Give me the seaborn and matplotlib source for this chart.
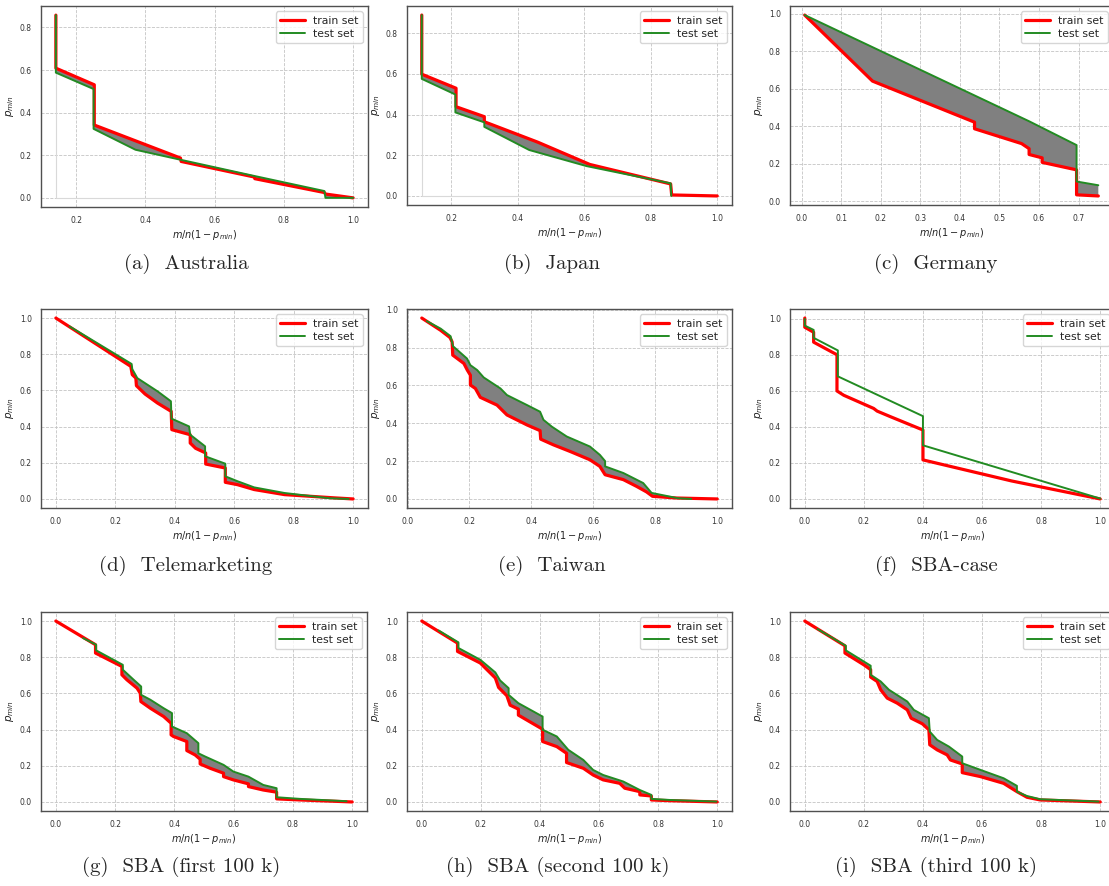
import numpy as np
import matplotlib
matplotlib.use('Agg')
import matplotlib.pyplot as plt
import seaborn as sns

# ---------------------------------------------------------------
# curvas p_min x m/n(1-p_min) (treino / teste)
# ---------------------------------------------------------------

# (a) Australia
aus_train_x = [0.141, 0.141, 0.252, 0.252, 0.501, 0.503, 0.714, 0.716, 0.917, 0.92, 1.0]
aus_train_y = [0.858, 0.609, 0.531, 0.342, 0.187, 0.171, 0.098, 0.090, 0.025, 0.018, 0.0]
aus_test_x = [0.141, 0.141, 0.250, 0.250, 0.371, 0.501, 0.714, 0.917, 0.92, 1.0]
aus_test_y = [0.858, 0.588, 0.511, 0.324, 0.226, 0.179, 0.103, 0.032, 0.0, 0.0]

# (b) Japan
jap_train_x = [0.112, 0.112, 0.215, 0.215, 0.300, 0.300, 0.460, 0.617, 0.860, 0.863, 1.0]
jap_train_y = [0.890, 0.599, 0.530, 0.439, 0.390, 0.365, 0.265, 0.155, 0.059, 0.005, 0.0]
jap_test_x = [0.112, 0.112, 0.213, 0.213, 0.300, 0.300, 0.435, 0.607, 0.860, 0.862]
jap_test_y = [0.890, 0.576, 0.499, 0.411, 0.362, 0.340, 0.226, 0.147, 0.062, 0.0]

# (c) Germany
ger_train_x = [0.0075, 0.179, 0.437, 0.437, 0.556, 0.575, 0.575, 0.608, 0.608, 0.695, 0.695, 0.750]
ger_train_y = [0.993, 0.641, 0.422, 0.387, 0.308, 0.281, 0.250, 0.232, 0.208, 0.168, 0.035, 0.029]
ger_test_x = [0.0075, 0.575, 0.695, 0.695, 0.750]
ger_test_y = [0.993, 0.427, 0.300, 0.106, 0.086]

# (d) Telemarketing
tel_train_x = [0.0, 0.252, 0.257, 0.269, 0.271, 0.300, 0.342, 0.388, 0.390, 0.452, 0.452,
               0.470, 0.504, 0.504, 0.570, 0.570, 0.611, 0.667, 0.769, 0.937, 1.0]
tel_train_y = [1.0, 0.733, 0.687, 0.668, 0.626, 0.580, 0.530, 0.484, 0.383, 0.355, 0.309,
               0.280, 0.254, 0.193, 0.171, 0.092, 0.079, 0.052, 0.024, 0.006, 0.0]
tel_test_x = [0.046, 0.255, 0.257, 0.274, 0.342, 0.387, 0.389, 0.448, 0.452, 0.502, 0.502,
              0.570, 0.570, 0.611, 0.667, 0.769, 0.920, 0.985]
tel_test_y = [0.954, 0.746, 0.718, 0.668, 0.595, 0.540, 0.444, 0.401, 0.355, 0.291, 0.236,
              0.195, 0.125, 0.098, 0.064, 0.033, 0.004, 0.0]

# (e) Taiwan
tai_train_x = [0.046, 0.107, 0.137, 0.144, 0.146, 0.182, 0.193, 0.203, 0.203, 0.219, 0.235,
               0.289, 0.321, 0.386, 0.428, 0.430, 0.471, 0.525, 0.589, 0.621, 0.638, 0.697,
               0.739, 0.772, 0.791, 0.868, 1.0]
tai_train_y = [0.956, 0.891, 0.853, 0.830, 0.760, 0.716, 0.681, 0.654, 0.602, 0.584, 0.537,
               0.496, 0.444, 0.391, 0.361, 0.316, 0.286, 0.251, 0.207, 0.172, 0.128, 0.102,
               0.067, 0.037, 0.014, 0.005, 0.0]
tai_test_x = [0.062, 0.107, 0.139, 0.147, 0.192, 0.203, 0.225, 0.246, 0.300, 0.321, 0.386,
              0.428, 0.439, 0.466, 0.514, 0.589, 0.621, 0.638, 0.638, 0.697, 0.761, 0.788,
              0.815, 0.873, 0.916]
tai_test_y = [0.940, 0.900, 0.860, 0.807, 0.742, 0.707, 0.681, 0.642, 0.584, 0.549, 0.496,
              0.461, 0.418, 0.382, 0.330, 0.277, 0.233, 0.200, 0.172, 0.137, 0.084, 0.032,
              0.023, 0.004, 0.0]

# (f) SBA-case
sbc_train_x = [0.0, 0.0, 0.030, 0.030, 0.109, 0.109, 0.132, 0.233, 0.245, 0.290, 0.400,
               0.400, 0.700, 1.0]
sbc_train_y = [1.005, 0.954, 0.926, 0.871, 0.801, 0.600, 0.576, 0.503, 0.488, 0.457, 0.383,
               0.217, 0.100, 0.0]
sbc_test_x = [0.0, 0.0, 0.030, 0.030, 0.112, 0.112, 0.400, 0.400, 1.0]
sbc_test_y = [1.0, 0.963, 0.939, 0.895, 0.825, 0.681, 0.460, 0.298, 0.002]

# (g) SBA (first 100 k)
sb1_train_x = [0.0, 0.134, 0.134, 0.223, 0.223, 0.240, 0.274, 0.285, 0.287, 0.319, 0.364,
               0.389, 0.389, 0.397, 0.442, 0.442, 0.470, 0.487, 0.487, 0.521, 0.566, 0.566,
               0.599, 0.650, 0.650, 0.700, 0.745, 0.745, 0.824, 1.0]
sb1_train_y = [1.0, 0.869, 0.823, 0.749, 0.703, 0.675, 0.629, 0.601, 0.555, 0.518, 0.472,
               0.435, 0.371, 0.362, 0.334, 0.284, 0.260, 0.236, 0.210, 0.186, 0.159, 0.140,
               0.122, 0.100, 0.085, 0.066, 0.054, 0.017, 0.011, 0.0]
sb1_test_x = [0.092, 0.136, 0.136, 0.226, 0.226, 0.263, 0.288, 0.288, 0.319, 0.364, 0.392,
              0.392, 0.442, 0.481, 0.481, 0.504, 0.566, 0.599, 0.650, 0.700, 0.745, 0.745,
              0.824, 0.981]
sb1_test_y = [0.906, 0.869, 0.838, 0.758, 0.731, 0.675, 0.638, 0.592, 0.565, 0.518, 0.491,
              0.417, 0.380, 0.325, 0.269, 0.251, 0.205, 0.168, 0.140, 0.094, 0.076, 0.026,
              0.017, 0.004]

# (h) SBA (second 100 k)
sb2_train_x = [0.0, 0.121, 0.121, 0.198, 0.249, 0.260, 0.288, 0.299, 0.327, 0.327, 0.389,
               0.409, 0.409, 0.457, 0.490, 0.490, 0.547, 0.580, 0.614, 0.670, 0.687, 0.738,
               0.738, 0.777, 0.777, 0.839, 1.0]
sb2_train_y = [1.0, 0.878, 0.832, 0.768, 0.685, 0.633, 0.587, 0.535, 0.513, 0.480, 0.421,
               0.402, 0.334, 0.306, 0.269, 0.218, 0.186, 0.149, 0.122, 0.103, 0.076, 0.057,
               0.039, 0.033, 0.011, 0.007, 0.0]
sb2_test_x = [0.057, 0.124, 0.124, 0.198, 0.249, 0.265, 0.294, 0.294, 0.327, 0.378, 0.409,
              0.409, 0.457, 0.496, 0.547, 0.580, 0.614, 0.682, 0.738, 0.777, 0.777, 0.839,
              0.997]
sb2_test_y = [0.948, 0.882, 0.851, 0.786, 0.716, 0.672, 0.629, 0.592, 0.546, 0.500, 0.472,
              0.399, 0.362, 0.288, 0.232, 0.177, 0.149, 0.113, 0.066, 0.039, 0.017, 0.011,
              0.002]

# (i) SBA (third 100 k)
sb3_train_x = [0.0, 0.136, 0.136, 0.200, 0.223, 0.223, 0.245, 0.257, 0.279, 0.313, 0.347,
               0.360, 0.398, 0.420, 0.423, 0.448, 0.482, 0.493, 0.533, 0.533, 0.595, 0.673,
               0.718, 0.752, 0.797, 1.0]
sb3_train_y = [1.0, 0.863, 0.823, 0.758, 0.731, 0.690, 0.666, 0.620, 0.574, 0.546, 0.509,
               0.463, 0.432, 0.399, 0.316, 0.288, 0.260, 0.232, 0.210, 0.162, 0.140, 0.103,
               0.057, 0.026, 0.011, 0.0]
sb3_test_x = [0.043, 0.139, 0.139, 0.223, 0.223, 0.257, 0.285, 0.347, 0.369, 0.420, 0.423,
              0.448, 0.488, 0.533, 0.533, 0.595, 0.673, 0.718, 0.718, 0.752, 0.797, 0.994]
sb3_test_y = [0.956, 0.863, 0.838, 0.753, 0.703, 0.666, 0.620, 0.555, 0.509, 0.463, 0.389,
              0.343, 0.306, 0.251, 0.214, 0.177, 0.131, 0.089, 0.057, 0.033, 0.015, 0.002]

legendas = ['(a)  Australia', '(b)  Japan', '(c)  Germany',
            '(d)  Telemarketing', '(e)  Taiwan', '(f)  SBA-case',
            '(g)  SBA (first 100 k)', '(h)  SBA (second 100 k)', '(i)  SBA (third 100 k)']

paineis = [
    (aus_train_x, aus_train_y, aus_test_x, aus_test_y),
    (jap_train_x, jap_train_y, jap_test_x, jap_test_y),
    (ger_train_x, ger_train_y, ger_test_x, ger_test_y),
    (tel_train_x, tel_train_y, tel_test_x, tel_test_y),
    (tai_train_x, tai_train_y, tai_test_x, tai_test_y),
    (sbc_train_x, sbc_train_y, sbc_test_x, sbc_test_y),
    (sb1_train_x, sb1_train_y, sb1_test_x, sb1_test_y),
    (sb2_train_x, sb2_train_y, sb2_test_x, sb2_test_y),
    (sb3_train_x, sb3_train_y, sb3_test_x, sb3_test_y),
]
sem_area = {'(f)  SBA-case'}          # painel sem preenchimento cinza
com_base = {'(a)  Australia', '(b)  Japan'}

# ---------------------------------------------------------------
sns.set_style('whitegrid', {'grid.linestyle': '--', 'grid.color': '#c4c4c4',
                            'axes.edgecolor': '#505050'})

W, H = 1109, 886
fig = plt.figure(figsize=(W / 100, H / 100), dpi=100)

# caixas dos eixos em pixels: (esq, topo, dir, base)
caixas = [(41, 6, 368, 207), (407, 6, 732, 205), (790, 6, 1113, 205),
          (41, 309, 368, 508), (407, 309, 732, 508), (790, 309, 1115, 508),
          (41, 612, 367, 811), (407, 612, 732, 811), (790, 612, 1115, 811)]
centros = [(186, 264), (552, 264), (936, 264),
           (186, 566), (552, 566), (936, 566),
           (181, 867), (558, 867), (936, 867)]

for k, (trx, tr_y, tex, te_y) in enumerate(paineis):
    l, t, r, b = caixas[k]
    ax = fig.add_axes([l / W, 1 - b / H, (r - l) / W, (b - t) / H])

    if legendas[k] in com_base:
        ax.plot([trx[0], trx[0], trx[-1]], [tr_y[0], 0, 0], color='#d9d9d9', lw=0.8, zorder=1)

    if legendas[k] not in sem_area:
        ax.fill(np.r_[trx, tex[::-1]], np.r_[tr_y, te_y[::-1]],
                color='gray', lw=0, zorder=2)

    sns.lineplot(x=trx, y=tr_y, sort=False, estimator=None, ax=ax,
                 color='red', lw=2.3, label='train set', zorder=3)
    sns.lineplot(x=tex, y=te_y, sort=False, estimator=None, ax=ax,
                 color='forestgreen', lw=1.4, label='test set', zorder=4)

    ax.grid(True, lw=0.6)
    for s in ax.spines.values():
        s.set_linewidth(1.0)
    ax.tick_params(labelsize=5.5, labelcolor='#333333', pad=3)
    ax.set_xlabel(r'$m/n(1-p_{min})$', fontsize=7, color='#222222', labelpad=2)
    ax.set_ylabel(r'$p_{min}$', fontsize=7.5, color='#222222', labelpad=3)
    ax.legend(loc='upper right', fontsize=7.8, handlelength=2.3,
              borderpad=0.4, labelspacing=0.3, handletextpad=0.7)

    cx, cy = centros[k]
    fig.text(cx / W, 1 - cy / H, legendas[k], ha='center', va='center',
             family='cmr10', fontsize=15)

fig.savefig('out.png', dpi=100)
